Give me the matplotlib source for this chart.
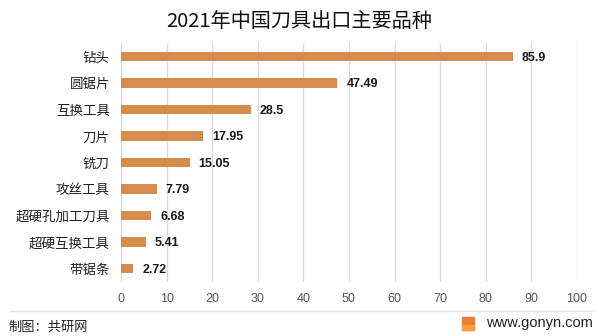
import matplotlib
matplotlib.use("Agg")
import matplotlib.pyplot as plt
from matplotlib.patches import Rectangle
from matplotlib.lines import Line2D

plt.rcParams['font.family'] = ['Noto Sans CJK SC', 'DejaVu Sans']

title = "2021年中国刀具出口主要品种"
categories = ["钻头", "圆锯片", "互换工具", "刀片", "铣刀", "攻丝工具",
              "超硬孔加工刀具", "超硬互换工具", "带锯条"]
values = [85.9, 47.49, 28.5, 17.95, 15.05, 7.79, 6.68, 5.41, 2.72]
value_labels = ["85.9", "47.49", "28.5", "17.95", "15.05", "7.79", "6.68", "5.41", "2.72"]
xticks = [0, 10, 20, 30, 40, 50, 60, 70, 80, 90, 100]

bar_color = "#D68B4F"

fig = plt.figure(figsize=(5.99, 3.36), dpi=100)

ax = fig.add_axes([0.202, 0.161, 0.761, 0.711])

ypos = list(range(len(categories)))
ax.barh(ypos, values, height=0.36, color=bar_color, zorder=3)
for y, v, lab in zip(ypos, values, value_labels):
    ax.text(v + 2.0, y + 0.05, lab, va='center', ha='left', fontsize=9,
            fontweight='bold', color='#1a1a1a', family=['Liberation Sans'])

ax.set_xlim(0, 100)
ax.set_ylim(len(categories) - 0.5, -0.5)
ax.set_yticks(ypos)
ax.set_yticklabels(categories, fontsize=9.7, color='#222222')
ax.set_xticks(xticks)
ax.set_xticklabels([str(t) for t in xticks], fontsize=9, color='#555555',
                   family=['Liberation Sans'])
ax.tick_params(axis='both', length=0)
ax.tick_params(axis='x', pad=8)
ax.tick_params(axis='y', pad=8)
ax.grid(axis='x', color='#D9D9D9', linewidth=0.9, zorder=0)
for s in ax.spines.values():
    s.set_visible(False)

fig.text(0.5, 0.935, title, ha='center', va='center', fontsize=14.5, color='#111111')

# separator line and footer
fig.add_artist(Line2D([0.017, 0.99], [1 - 311/336, 1 - 311/336],
                      color='#E6E6E6', linewidth=1.0))
fig.text(0.014, 1 - 327/336, "制图：共研网", ha='left', va='center',
         fontsize=9.5, color='#222222')
fig.text(0.99, 1 - 323/336, "www.gonyn.com", ha='right', va='center',
         fontsize=10.5, color='#222222', family=['Liberation Sans'])
fig.add_artist(Rectangle((462/599, 1 - 330/336), 12/599, 13/336,
                         transform=fig.transFigure, color='#F07A3A'))
fig.add_artist(Rectangle((462/599, 1 - 330/336), 12/599, 5/336,
                         transform=fig.transFigure, color='#F5A03D'))

fig.savefig("out.png", dpi=100)
